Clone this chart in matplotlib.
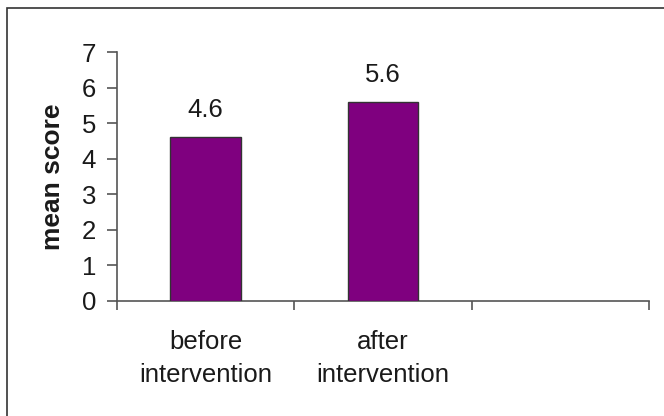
import matplotlib
matplotlib.use("Agg")
import matplotlib.pyplot as plt
from matplotlib.patches import Rectangle

categories = ["before\nintervention", "after\nintervention", ""]
values = [4.6, 5.6]
value_labels = ["4.6", "5.6"]
yticks = [0, 1, 2, 3, 4, 5, 6, 7]

plt.rcParams['font.family'] = ['Liberation Sans', 'DejaVu Sans']

W, H = 664, 416
fig = plt.figure(figsize=(W / 100, H / 100), dpi=100)
fig.patch.set_facecolor("white")

# figure frame
fig.patches.append(Rectangle((7 / W, -0.05), 1.2, (416 - 8) / H + 0.05,
                             transform=fig.transFigure, fill=False,
                             edgecolor="#333333", linewidth=1.2))

ax = fig.add_axes([117 / W, (416 - 301) / H, (649 - 117) / W, (301 - 52) / H])
ax.set_facecolor("none")

FS = 18.5
TXT = "#1a1a1a"

x = list(range(len(values)))
ax.bar(x, values, width=0.4, color="#7f007f", edgecolor="#333333", linewidth=1.0, zorder=3)
for xi, v, lab in zip(x, values, value_labels):
    ax.annotate(lab, (xi, v), xytext=(0, 11), textcoords="offset points",
                ha="center", va="bottom", fontsize=FS, color=TXT)

ax.set_xlim(-0.5, len(categories) - 0.5)
ax.set_ylim(0, 7)
ax.set_yticks(yticks)
ax.set_yticklabels([str(t) for t in yticks], fontsize=FS, color=TXT)
ax.set_xticks(range(len(categories)))
ax.set_xticklabels(categories, fontsize=FS, color=TXT, linespacing=1.45)
ax.set_xticks([i - 0.5 for i in range(len(categories) + 1)], minor=True)
ax.tick_params(axis="x", which="major", length=0, pad=21)
ax.tick_params(axis="x", which="minor", length=6.5, width=1.2, color="#555555", direction="out")
ax.tick_params(axis="y", which="major", length=7, width=1.2, color="#555555", direction="out", pad=8)

for s in ["top", "right"]:
    ax.spines[s].set_visible(False)
for s in ["left", "bottom"]:
    ax.spines[s].set_color("#555555")
    ax.spines[s].set_linewidth(1.2)

ax.set_ylabel("mean score", fontsize=19, fontweight="bold", color=TXT, labelpad=12)

fig.savefig("out.png", dpi=100)
